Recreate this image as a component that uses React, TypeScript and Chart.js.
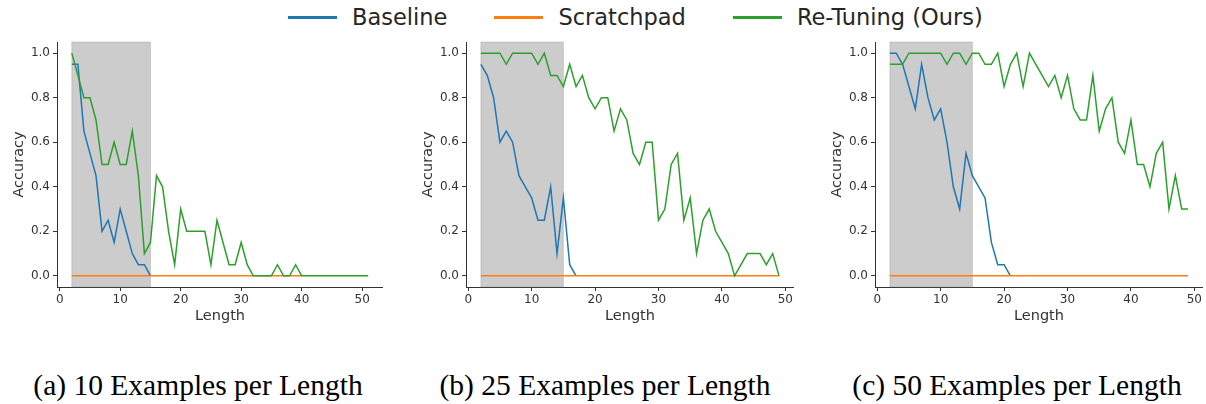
import React, { useEffect, useRef } from 'react';
import { Chart, registerables } from 'chart.js';

Chart.register(...registerables);

// ---------------- data ----------------
const LENGTHS_A = [2, 3, 4, 5, 6, 7, 8, 9, 10, 11, 12, 13, 14, 15, 16, 17, 18, 19, 20, 21, 22, 23, 24, 25, 26, 27, 28, 29, 30, 31, 32, 33, 34, 35, 36, 37, 38, 39, 40, 41, 42, 43, 44, 45, 46, 47, 48, 49, 50, 51];
const LENGTHS_BC = [2, 3, 4, 5, 6, 7, 8, 9, 10, 11, 12, 13, 14, 15, 16, 17, 18, 19, 20, 21, 22, 23, 24, 25, 26, 27, 28, 29, 30, 31, 32, 33, 34, 35, 36, 37, 38, 39, 40, 41, 42, 43, 44, 45, 46, 47, 48, 49];

const BASELINE_A = [0.95, 0.95, 0.65, 0.55, 0.45, 0.2, 0.25, 0.15, 0.3, 0.2, 0.1, 0.05, 0.05, 0.0];
const SCRATCHPAD_A = [0, 0, 0, 0, 0, 0, 0, 0, 0, 0, 0, 0, 0, 0, 0, 0, 0, 0, 0, 0, 0, 0, 0, 0, 0, 0, 0, 0, 0, 0, 0, 0, 0, 0, 0, 0, 0, 0, 0];
const RETUNING_A = [1.0, 0.9, 0.8, 0.8, 0.7, 0.5, 0.5, 0.6, 0.5, 0.5, 0.65, 0.45, 0.1, 0.15, 0.45, 0.4, 0.2, 0.05, 0.3, 0.2, 0.2, 0.2, 0.2, 0.05, 0.25, 0.15, 0.05, 0.05, 0.15, 0.05, 0, 0, 0, 0, 0.05, 0, 0, 0.05, 0, 0, 0, 0, 0, 0, 0, 0, 0, 0, 0, 0];

const BASELINE_B = [0.95, 0.9, 0.8, 0.6, 0.65, 0.6, 0.45, 0.4, 0.35, 0.25, 0.25, 0.4, 0.1, 0.35, 0.05, 0.0];
const SCRATCHPAD_B = [0, 0, 0, 0, 0, 0, 0, 0, 0, 0, 0, 0, 0, 0, 0, 0, 0, 0, 0, 0, 0, 0, 0, 0, 0, 0, 0, 0, 0, 0, 0, 0, 0, 0, 0, 0, 0, 0, 0, 0, 0, 0, 0, 0, 0, 0, 0, 0];
const RETUNING_B = [1, 1, 1, 1, 0.95, 1, 1, 1, 1, 0.95, 1, 0.9, 0.9, 0.85, 0.95, 0.85, 0.9, 0.8, 0.75, 0.8, 0.8, 0.65, 0.75, 0.7, 0.55, 0.5, 0.6, 0.6, 0.25, 0.3, 0.5, 0.55, 0.25, 0.35, 0.1, 0.25, 0.3, 0.2, 0.15, 0.1, 0.0, 0.05, 0.1, 0.1, 0.1, 0.05, 0.1, 0.0];

const BASELINE_C = [1, 1, 0.95, 0.85, 0.75, 0.95, 0.8, 0.7, 0.75, 0.6, 0.4, 0.3, 0.55, 0.45, 0.4, 0.35, 0.15, 0.05, 0.05, 0.0];
const SCRATCHPAD_C = [0, 0, 0, 0, 0, 0, 0, 0, 0, 0, 0, 0, 0, 0, 0, 0, 0, 0, 0, 0, 0, 0, 0, 0, 0, 0, 0, 0, 0, 0, 0, 0, 0, 0, 0, 0, 0, 0, 0, 0, 0, 0, 0, 0, 0, 0, 0, 0];
const RETUNING_C = [0.95, 0.95, 0.95, 1, 1, 1, 1, 1, 1, 0.95, 1, 1, 0.95, 1, 1, 0.95, 0.95, 1, 0.85, 0.95, 1, 0.85, 1, 0.95, 0.9, 0.85, 0.9, 0.8, 0.9, 0.75, 0.7, 0.7, 0.9, 0.65, 0.75, 0.8, 0.6, 0.55, 0.7, 0.5, 0.5, 0.4, 0.55, 0.6, 0.3, 0.45, 0.3, 0.3];

const X_TICKS = [0, 10, 20, 30, 40, 50];
const Y_TICKS = [0, 0.2, 0.4, 0.6, 0.8, 1.0];
const SHADE_START = 2;
const SHADE_END = 15;

const SERIES_NAMES = ['Baseline', 'Scratchpad', 'Re-Tuning (Ours)'];
const SERIES_COLORS = ['#1f77b4', '#ff7f0e', '#2ca02c'];
const CAPTIONS = ['(a) 10 Examples per Length', '(b) 25 Examples per Length', '(c) 50 Examples per Length'];

// ---------------- layout ----------------
const PANELS = [
  { left: 0, width: 383, xMin: -0.45, xMax: 53.45, lengths: LENGTHS_A, series: [BASELINE_A, SCRATCHPAD_A, RETUNING_A], capCenter: 198 },
  { left: 409, width: 386, xMin: -0.35, xMax: 51.35, lengths: LENGTHS_BC, series: [BASELINE_B, SCRATCHPAD_B, RETUNING_B], capCenter: 605 },
  { left: 818, width: 386, xMin: -0.35, xMax: 51.35, lengths: LENGTHS_BC, series: [BASELINE_C, SCRATCHPAD_C, RETUNING_C], capCenter: 1017 },
];
const CANVAS_H = 330;
const TEXT = '#333333';
const SPINE = '#333333';

const shadePlugin = {
  id: 'shade',
  beforeDatasetsDraw(chart: any) {
    const { ctx, chartArea, scales } = chart;
    const x0 = scales.x.getPixelForValue(SHADE_START);
    const x1 = scales.x.getPixelForValue(SHADE_END);
    ctx.save();
    ctx.fillStyle = 'rgba(128,128,128,0.4)';
    ctx.fillRect(x0, chartArea.top, x1 - x0, chartArea.bottom - chartArea.top);
    ctx.strokeStyle = 'rgba(128,128,128,0.3)';
    ctx.lineWidth = 1;
    ctx.strokeRect(x0, chartArea.top, x1 - x0, chartArea.bottom - chartArea.top);
    ctx.restore();
  },
};

function Panel({ panel }: { panel: any }) {
  const ref = useRef<HTMLCanvasElement>(null);
  useEffect(() => {
    if (!ref.current) return;
    const datasets = panel.series.map((vals: number[], i: number) => ({
      label: SERIES_NAMES[i],
      data: vals.map((v, j) => ({ x: panel.lengths[j], y: v })),
      borderColor: SERIES_COLORS[i],
      backgroundColor: SERIES_COLORS[i],
      borderWidth: 1.5,
      pointRadius: 0,
      tension: 0,
      fill: false,
      order: 3 - i,
    }));
    const chart = new Chart(ref.current, {
      type: 'line',
      data: { datasets },
      plugins: [shadePlugin],
      options: {
        animation: false,
        responsive: false,
        maintainAspectRatio: false,
        layout: { padding: { top: 42, left: 0, right: 0, bottom: 0 } },
        plugins: { legend: { display: false }, tooltip: { enabled: false } },
        scales: {
          x: {
            type: 'linear',
            min: panel.xMin,
            max: panel.xMax,
            afterBuildTicks: (s: any) => { s.ticks = X_TICKS.map((value) => ({ value })); },
            afterFit: (s: any) => { s.height = 43; },
            ticks: { color: TEXT, font: { size: 12, family: 'DejaVu Sans' }, padding: 2, maxRotation: 0, callback: (v: any) => String(v) },
            grid: { display: true, drawOnChartArea: false, drawTicks: true, tickLength: 4, color: SPINE },
            border: { display: true, color: SPINE, width: 1 },
            title: { display: true, text: 'Length', color: TEXT, font: { size: 14.5, family: 'DejaVu Sans' }, padding: { top: 0, bottom: 5 } },
          },
          y: {
            type: 'linear',
            min: -0.05,
            max: 1.05,
            afterBuildTicks: (s: any) => { s.ticks = Y_TICKS.map((value) => ({ value })); },
            afterFit: (s: any) => { s.width = 57; },
            ticks: { color: TEXT, font: { size: 12, family: 'DejaVu Sans' }, padding: 3, callback: (v: any) => Number(v).toFixed(1) },
            grid: { display: true, drawOnChartArea: false, drawTicks: true, tickLength: 4, color: SPINE },
            border: { display: true, color: SPINE, width: 1 },
            title: { display: true, text: 'Accuracy', color: TEXT, font: { size: 14.5, family: 'DejaVu Sans' }, padding: { top: 10.5, bottom: 0 } },
          },
        },
      },
    } as any);
    return () => chart.destroy();
  }, [panel]);
  return (
    <canvas
      ref={ref}
      width={panel.width}
      height={CANVAS_H}
      style={{ position: 'absolute', left: panel.left, top: 0, width: panel.width, height: CANVAS_H }}
    />
  );
}

export default function App() {
  return (
    <div style={{ position: 'absolute', left: 0, top: 0, width: 1206, height: 404, background: '#fff', overflow: 'hidden' }}>
      <div style={{ position: 'absolute', left: 288, top: 6, display: 'flex', alignItems: 'center', fontFamily: 'DejaVu Sans', fontSize: 22.5, lineHeight: '22px', color: '#262626', whiteSpace: 'nowrap' }}>
        {SERIES_NAMES.map((name, i) => (
          <div key={name} style={{ display: 'flex', alignItems: 'center', marginRight: 47 }}>
            <span style={{ display: 'inline-block', width: 49, height: 3, background: SERIES_COLORS[i], marginRight: 15 }} />
            <span>{name}</span>
          </div>
        ))}
      </div>
      {PANELS.map((p, i) => (
        <Panel key={i} panel={p} />
      ))}
      {PANELS.map((p, i) => (
        <div key={'c' + i} style={{ position: 'absolute', left: p.capCenter - 200, width: 400, top: 371, textAlign: 'center', fontFamily: '"Liberation Serif", "Times New Roman", serif', fontSize: 29.5, lineHeight: '29.5px', color: '#000', whiteSpace: 'nowrap' }}>
          {CAPTIONS[i]}
        </div>
      ))}
    </div>
  );
}
